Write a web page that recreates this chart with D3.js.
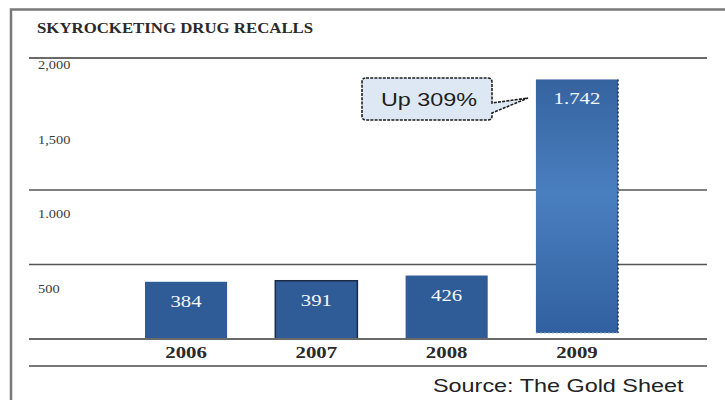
<!DOCTYPE html>
<html>
<head>
<meta charset="utf-8">
<script src="https://cdn.jsdelivr.net/npm/d3@7"></script>
<style>
  html, body { margin: 0; padding: 0; background: #fff; }
  svg { display: block; }
</style>
</head>
<body>
<svg id="chart" width="725" height="400"></svg>
<script>
// ---- data ----
const years = ["2006", "2007", "2008", "2009"];
const recalls = [384, 391, 426, 1742];
const valueLabels = ["384", "391", "426", "1.742"];
const tickValues = [500, 1000, 1500, 2000];
const tickLabels = ["500", "1.000", "1,500", "2,000"];
const gridValues = [500, 1000];
const title = "SKYROCKETING DRUG RECALLS";
const calloutText = "Up 309%";
const sourceText = "Source: The Gold Sheet";

const svg = d3.select("#chart");
const SX = 1.3; // horizontal stretch of the original picture's text
const serif = "'Liberation Serif', 'DejaVu Serif', serif";
const sans = "'Liberation Sans', Arial, sans-serif";

const x = d3.scaleBand().domain(years).range([145, 618]).paddingInner(0.37).paddingOuter(0);
const y = d3.scaleLinear().domain([0, 2000]).range([339, 41]);

function stext(x0, y0, str, opts) {
  const t = svg.append("text")
    .attr("transform", `translate(${x0},${y0}) scale(${opts.sx || SX},1)`)
    .attr("font-family", opts.family || serif)
    .attr("font-size", opts.size)
    .attr("font-weight", opts.weight || "normal")
    .attr("fill", opts.fill || "#222")
    .attr("text-anchor", opts.anchor || "start")
    .text(str);
  return t;
}

const defs = svg.append("defs");
const grad = defs.append("linearGradient").attr("id", "g09").attr("x1", 0).attr("y1", 0).attr("x2", 0).attr("y2", 1);
grad.append("stop").attr("offset", "0%").attr("stop-color", "#3563a0");
grad.append("stop").attr("offset", "45%").attr("stop-color", "#4a7fbf");
grad.append("stop").attr("offset", "100%").attr("stop-color", "#3160a0");

// frame
svg.append("path").attr("d", "M11,400 V9.5 H725").attr("fill", "none").attr("stroke", "#7a7a7a").attr("stroke-width", 2.5);

// title
stext(37, 33, title, { size: 14, sx: 1.2, weight: "bold", fill: "#2a2a2a" });

// separator under title
svg.append("line").attr("x1", 29).attr("x2", 707).attr("y1", 58).attr("y2", 58)
  .attr("stroke", "#6a6a6a").attr("stroke-width", 2);

// gridlines
svg.selectAll(".grid").data(gridValues).join("line")
  .attr("x1", 29).attr("x2", 707)
  .attr("y1", d => y(d)).attr("y2", d => y(d))
  .attr("stroke", "#555").attr("stroke-width", 1.3);

// y tick labels
tickValues.forEach((v, i) => {
  stext(38, y(v) + 28, tickLabels[i], { size: 12, sx: 1.2, fill: "#3a3a3a" });
});

// bars
const data = years.map((yr, i) => ({ year: yr, value: recalls[i], label: valueLabels[i] }));
svg.selectAll(".bar").data(data).join("rect")
  .attr("x", d => x(d.year))
  .attr("width", x.bandwidth())
  .attr("y", d => y(d.value))
  .attr("height", d => y(0) - y(d.value) - (d.year === "2009" ? 6 : 0))
  .attr("fill", d => d.year === "2009" ? "url(#g09)" : "#2f5b96")
  .attr("stroke", d => d.year === "2007" ? "#1b2b44" : "none")
  .attr("stroke-width", 1.5);

// dotted right edge on 2009 bar
const last = data[3];
svg.append("line")
  .attr("x1", x(last.year) + x.bandwidth()).attr("x2", x(last.year) + x.bandwidth())
  .attr("y1", y(last.value)).attr("y2", y(0) - 6)
  .attr("stroke", "#1d2d45").attr("stroke-width", 1.5).attr("stroke-dasharray", "2,2");
svg.append("line")
  .attr("x1", x(last.year)).attr("x2", x(last.year) + x.bandwidth())
  .attr("y1", y(0) - 6).attr("y2", y(0) - 6)
  .attr("stroke", "#9db4d4").attr("stroke-width", 1).attr("stroke-dasharray", "2,2");

// value labels
data.forEach(d => {
  stext(x(d.year) + x.bandwidth() / 2, y(d.value) + 25, d.label, { size: 16, fill: "#f4f7fb", anchor: "middle" });
});

// baseline and lower rule
svg.append("line").attr("x1", 29).attr("x2", 707).attr("y1", y(0)).attr("y2", y(0))
  .attr("stroke", "#6a6a6a").attr("stroke-width", 2);
svg.append("line").attr("x1", 29).attr("x2", 707).attr("y1", 366).attr("y2", 366)
  .attr("stroke", "#777").attr("stroke-width", 2);

// year labels
data.forEach(d => {
  stext(x(d.year) + x.bandwidth() / 2, 358, d.year, { size: 16, weight: "bold", fill: "#2a2a2a", anchor: "middle" });
});

// callout
svg.append("path")
  .attr("d", "M366,78 H488 Q492,78 492,82 V103 L528,98 L492,113 V116 Q492,120 488,120 H366 Q362,120 362,116 V82 Q362,78 366,78 Z")
  .attr("fill", "#dde8f4").attr("stroke", "#1e1e1e").attr("stroke-width", 1.6)
  .attr("stroke-dasharray", "3,1.2");
stext(429, 106, calloutText, { size: 18, family: sans, fill: "#1e1e1e", anchor: "middle" });

// source
stext(433, 392, sourceText, { size: 18, family: sans, fill: "#222" });
</script>
</body>
</html>
